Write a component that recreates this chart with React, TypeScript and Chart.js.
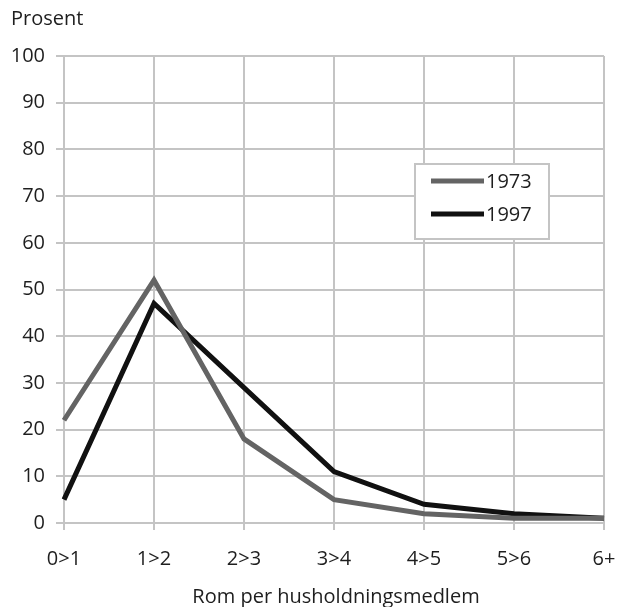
import React, { useEffect, useRef } from "react";
import { Chart, registerables } from "chart.js";

Chart.register(...registerables);

const categories = ["0>1", "1>2", "2>3", "3>4", "4>5", "5>6", "6+"];
const series1973 = [22, 52, 18, 5, 2, 1, 1];
const series1997 = [5, 47, 29, 11, 4, 2, 1];
const yTitle = "Prosent";
const xTitle = "Rom per husholdningsmedlem";
const seriesNames = ["1973", "1997"];
const seriesColors = ["#646464", "#111111"];

const FONT = "'Open Sans', 'Noto Sans', sans-serif";
const GRID = "#c4c4c4";
const TEXT = "#1e1e1e";

const overlayPlugin = {
  id: "overlay",
  afterDraw(chart: any) {
    const ctx = chart.ctx;
    const area = chart.chartArea;
    ctx.save();
    ctx.fillStyle = TEXT;
    ctx.font = `20px ${FONT}`;
    ctx.textBaseline = "alphabetic";
    ctx.textAlign = "left";
    ctx.fillText(yTitle, 11, 25);
    ctx.textAlign = "center";
    ctx.fillText(xTitle, (area.left + area.right) / 2 + 2, 603);

    // legend box
    const bx = 415, by = 164, bw = 134, bh = 75;
    ctx.fillStyle = "#ffffff";
    ctx.fillRect(bx, by, bw, bh);
    ctx.strokeStyle = GRID;
    ctx.lineWidth = 2;
    ctx.strokeRect(bx, by, bw, bh);
    const rows = [181, 214];
    seriesNames.forEach((name, i) => {
      ctx.strokeStyle = seriesColors[i];
      ctx.lineWidth = 5;
      ctx.lineCap = "butt";
      ctx.beginPath();
      ctx.moveTo(431, rows[i]);
      ctx.lineTo(484, rows[i]);
      ctx.stroke();
      ctx.fillStyle = TEXT;
      ctx.textAlign = "left";
      ctx.textBaseline = "middle";
      ctx.fillText(name, 486, rows[i] + 1);
    });
    ctx.restore();
  },
};

export default function App() {
  const ref = useRef<HTMLCanvasElement | null>(null);
  useEffect(() => {
    document.body.style.margin = "0";
    if (!ref.current) return;
    const chart = new Chart(ref.current, {
      type: "line",
      data: {
        labels: categories,
        datasets: [
          {
            label: seriesNames[0],
            data: series1973,
            borderColor: seriesColors[0],
            backgroundColor: seriesColors[0],
            borderWidth: 5,
            pointRadius: 0,
            tension: 0,
            borderJoinStyle: "miter",
          },
          {
            label: seriesNames[1],
            data: series1997,
            borderColor: seriesColors[1],
            backgroundColor: seriesColors[1],
            borderWidth: 5,
            pointRadius: 0,
            tension: 0,
            borderJoinStyle: "miter",
          },
        ],
      },
      options: {
        responsive: false,
        animation: false,
        layout: { padding: { top: 56, right: 14, left: 0, bottom: 0 } },
        plugins: {
          legend: { display: false },
          tooltip: { enabled: false },
          title: { display: false },
        },
        scales: {
          x: {
            offset: false,
            grid: { color: GRID, lineWidth: 2, tickLength: 7 },
            border: { color: GRID, width: 2 },
            ticks: {
              font: { family: FONT, size: 20 },
              color: TEXT,
              padding: 17,
              maxRotation: 0,
              autoSkip: false,
            },
            afterFit(scale: any) {
              scale.height = 84;
              scale.paddingLeft = 0;
              scale.paddingRight = 0;
            },
          },
          y: {
            min: 0,
            max: 100,
            grid: { color: GRID, lineWidth: 2, tickLength: 8 },
            border: { color: GRID, width: 2 },
            ticks: {
              stepSize: 10,
              font: { family: FONT, size: 20 },
              color: TEXT,
              padding: 11,
            },
            afterFit(scale: any) {
              scale.width = 64;
              scale.paddingTop = 0;
              scale.paddingBottom = 0;
            },
          },
        },
      },
      plugins: [overlayPlugin],
    } as any);
    return () => chart.destroy();
  }, []);
  return <canvas ref={ref} width={618} height={607} style={{ display: "block" }} />;
}
